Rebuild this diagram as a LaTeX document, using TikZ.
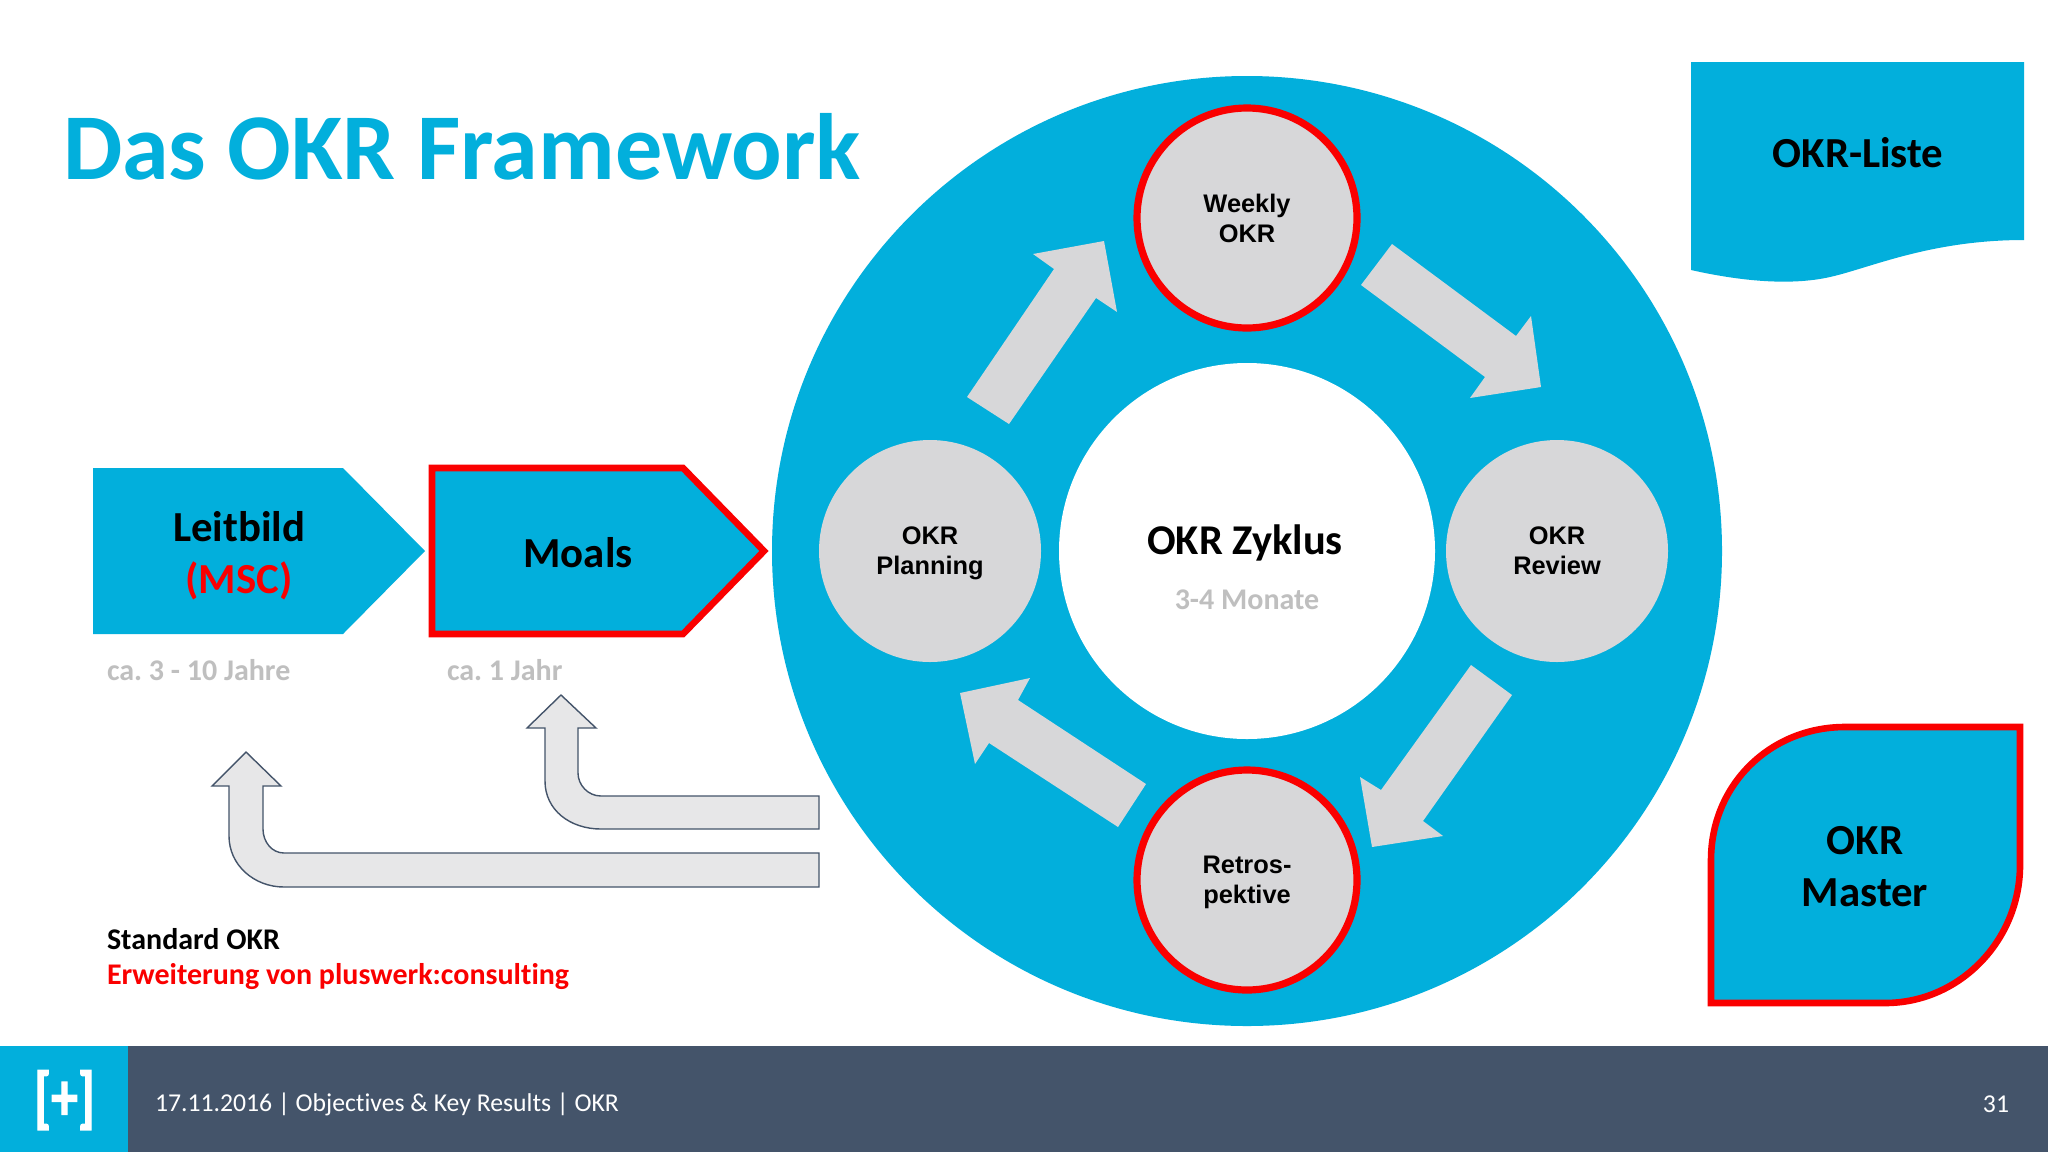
\documentclass[tikz,border=0pt]{standalone}
\usepackage{fontspec}
\setmainfont[Ligatures=NoCommon]{Carlito}
\newfontfamily\arialfont{Liberation Sans}
\newfontfamily\logofont[FakeBold=2]{Carlito Bold}
\definecolor{okr_blue}{HTML}{02AFDC}
\definecolor{okr_dark}{HTML}{44546A}
\definecolor{okr_grey}{HTML}{D7D7D9}
\definecolor{okr_pale}{HTML}{E7E7E8}
\definecolor{okr_label}{HTML}{BFBFBF}
\definecolor{okr_red}{HTML}{FA0000}
\usetikzlibrary{positioning}

\begin{document}
\frenchspacing
\begin{tikzpicture}[
    x=0.5pt,y=-0.5pt,
    outer sep=0pt,
    every node/.style={inner sep=0pt},
    blueshape/.style={fill=okr_blue},
    redline/.style={draw=okr_red,line width=3.3pt,miter limit=10},
    cyclearrow/.style={fill=okr_grey},
    bentarrow/.style={fill=okr_pale,draw=okr_dark,line width=0.7pt},
    cyclenode/.style={circle,fill=okr_grey,minimum size=111pt,align=center,text depth=0pt,
        font=\arialfont\fontsize{12.7}{15}\selectfont\bfseries},
    rednode/.style={cyclenode,draw=okr_red,line width=3.6pt,minimum size=110pt},
    boxlabel/.style={align=center,font=\fontsize{21.4}{26}\selectfont\bfseries},
    spanlabel/.style={anchor=base west,text=okr_label,font=\fontsize{15}{18}\selectfont\bfseries},
    keylabel/.style={anchor=base west,font=\fontsize{15}{18}\selectfont\bfseries},
    footlabel/.style={text=white,font=\fontsize{12.85}{16}\selectfont}
]
    \useasboundingbox (0,0) rectangle (2048,1152);
    \fill[white] (0,0) rectangle (2048,1152);

    \node[anchor=base west,text=okr_blue,font=\fontsize{47.1}{56}\selectfont\bfseries] (title) at (63,179) {Das OKR Framework};

    % ring with the cycle
    \node[circle,fill=okr_blue,minimum size=475pt] (ring) at (1247,551) {};
    \node[circle,fill=white,minimum size=188pt] (hub) at (ring.center) {};
    \node[font=\fontsize{21.2}{25}\selectfont\bfseries] (zyklus) at (1245,543) {OKR Zyklus};
    \node[text=okr_label,font=\fontsize{15}{18}\selectfont\bfseries] (monate) at (1247,600) {3-4 Monate};

    \node[rednode] (weekly) [above = 17.5pt of hub] {Weekly\\OKR};
    \node[rednode] (retro) [below = 15.5pt of hub] {Retros-\\pektive};
    \node[cyclenode] (planning) [left = 9pt of hub] {OKR\\Planning};
    \node[cyclenode] (review) [right = 5.5pt of hub] {OKR\\Review};

    \fill[cyclearrow] (967,397) -- (1054,269) -- (1033,254) -- (1104,241) -- (1117,312) -- (1096,298) -- (1009,424) -- cycle;
    \fill[cyclearrow] (1392,244) -- (1516,336) -- (1531,316) -- (1541,387) -- (1470,398) -- (1485,377) -- (1361,285) -- cycle;
    \fill[cyclearrow] (1512,695) -- (1423,821) -- (1443,836) -- (1372,847) -- (1360,777) -- (1381,790) -- (1471,665) -- cycle;
    \fill[cyclearrow] (1118,827) -- (989,743) -- (975,764) -- (960,693) -- (1030,678) -- (1018,700) -- (1146,784) -- cycle;

    % left side
    \fill[blueshape] (93,468) -- (343,468) -- (425,551) -- (343,634) -- (93,634) -- cycle;
    \node[boxlabel] (leitbild) at (239,556) {Leitbild\\\textcolor{okr_red}{(MSC)}};
    \path[blueshape,redline] (432,468) -- (683,468) -- (764,551) -- (683,634) -- (432,634) -- cycle;
    \node[boxlabel] (moals) at (578,553) {Moals};
    \node[spanlabel] (span1) at (107,680) {ca. 3 - 10 Jahre};
    \node[spanlabel] (span2) at (447,680) {ca. 1 Jahr};

    \draw[bentarrow] (545,728) -- (545,781) .. controls (545,810) and (570,829) .. (601,829) -- (819,829) -- (819,796) -- (601,796)
        .. controls (588,796) and (578,785) .. (578,773) -- (578,728) -- (596,728) -- (561,695) -- (527,728) -- cycle;
    \draw[bentarrow] (229,786) -- (229,836) .. controls (229,865) and (254,887) .. (284,887) -- (819,887) -- (819,853) -- (284,853)
        .. controls (272,853) and (263,842) .. (263,829) -- (263,786) -- (281,786) -- (246,752) -- (212,786) -- cycle;

    \node[keylabel] (standard) at (107,949) {Standard OKR};
    \node[keylabel,text=okr_red] (extension) at (107,984) {Erweiterung von pluswerk:consulting};

    % right side
    \fill[blueshape] (1691,62) -- (2024,62) -- (2024,240) .. controls (1930,240) and (1870,268) .. (1830,277)
        .. controls (1790,286) and (1740,281) .. (1691,270) -- cycle;
    \node[boxlabel] (liste) at (1858,153) {OKR-Liste};
    \path[blueshape,redline] (1711,1003) -- (1711,860) .. controls (1711,785) and (1770,727) .. (1845,727) -- (2020,727)
        -- (2020,865) .. controls (2020,940) and (1960,1003) .. (1885,1003) -- cycle;
    \node[boxlabel] (master) at (1865,867) {OKR\\Master};

    % footer
    \fill[okr_dark] (0,1046) rectangle (2048,1152);
    \fill[okr_blue] (0,1046) rectangle (128,1152);
    \node[text=white,xscale=0.78,transform shape,font=\logofont\fontsize{34}{40}\selectfont] (logo) at (64.5,1100) {[+]};
    \node[footlabel,anchor=west] (footer) at (155,1104) {17.11.2016 | Objectives \& Key Results | OKR};
    \node[footlabel,anchor=east] (pageno) at (2009,1104) {31};
\end{tikzpicture}
\end{document}
